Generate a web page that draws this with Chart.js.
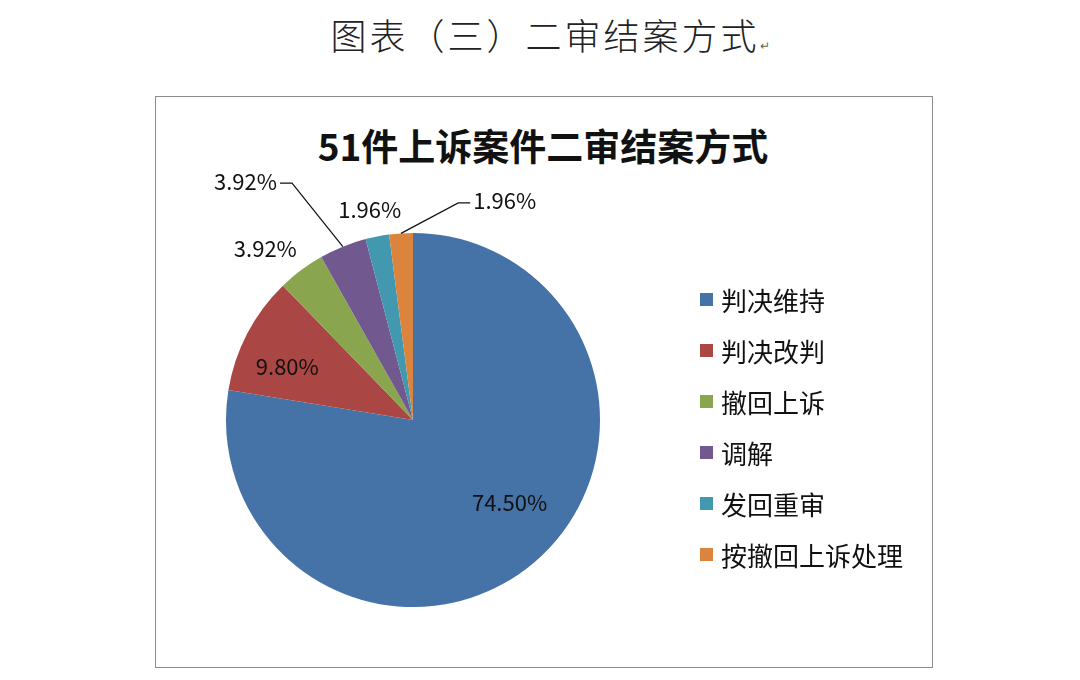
<!DOCTYPE html>
<html><head><meta charset="utf-8">
<script src="https://cdn.jsdelivr.net/npm/chart.js@4"></script>
<style>
body{margin:0;background:#fff;font-family:"Noto Sans CJK SC",sans-serif;}
#wrap{position:relative;width:1080px;height:680px;}
#top{position:absolute;left:0;width:1080px;top:8px;text-align:center;font-size:36px;font-weight:300;letter-spacing:3px;color:#222;padding-left:20px;box-sizing:border-box;}
#top small{font-size:12px;color:#666;letter-spacing:0}
#box{position:absolute;left:155px;top:96px;width:776px;height:570px;border:1.5px solid #8c8c8c;}
#title{position:absolute;left:155px;width:776px;top:118px;text-align:center;font-size:37px;font-weight:bold;color:#111;}
#legend{position:absolute;left:700px;top:274px;font-size:26px;color:#111;}
#legend div{height:51px;display:flex;align-items:center;}
#legend span{display:inline-block;width:13px;height:13px;margin-right:8px;}
canvas{position:absolute;left:0;top:0;}
</style></head><body>
<div id="wrap">
<div id="top">图表（三）二审结案方式<small>↵</small></div>
<div id="box"></div>
<div id="title">51件上诉案件二审结案方式</div>
<canvas id="c" width="1080" height="680"></canvas>
<div id="legend"></div>
</div>
<script>
const categories = ['判决维持', '判决改判', '撤回上诉', '调解', '发回重审', '按撤回上诉处理'];
const values = [74.50, 9.80, 3.92, 3.92, 1.96, 1.96];
const valueLabels = ['74.50%', '9.80%', '3.92%', '3.92%', '1.96%', '1.96%'];
const colors = ['#4572A7', '#AA4643', '#89A54E', '#71588F', '#4198AF', '#DB843D'];
// label placement: radius factor, angle shift (deg), leader line
const placement = [[0.68, -9, false], [0.73, -4.6, false], [1.21, -4, false], [1.56, -13, true], [1.15, -0.6, false], [1.27, 26.4, true]];

const legend = document.getElementById('legend');
categories.forEach((c, i) => {
  legend.innerHTML += `<div><span style="background:${colors[i]}"></span>${c}</div>`;
});

const labelPlugin = {
  id: 'labels',
  afterDatasetsDraw(chart) {
    const ctx = chart.ctx;
    chart.getDatasetMeta(0).data.forEach((arc, i) => {
      const mid = (arc.startAngle + arc.endAngle) / 2;
      const [f, dA, leader] = placement[i];
      const a = mid + dA * Math.PI / 180;
      const lx = arc.x + Math.cos(a) * arc.outerRadius * f;
      const ly = arc.y + Math.sin(a) * arc.outerRadius * f;
      ctx.save();
      ctx.font = '22px "Noto Sans CJK SC", sans-serif';
      ctx.fillStyle = '#111';
      ctx.textAlign = 'center';
      ctx.textBaseline = 'middle';
      ctx.fillText(valueLabels[i], lx, ly);
      if (leader) {
        const w = ctx.measureText(valueLabels[i]).width;
        const ex = arc.x + Math.cos(mid) * arc.outerRadius;
        const ey = arc.y + Math.sin(mid) * arc.outerRadius;
        const side = ex > lx ? 1 : -1;
        const sx = lx + side * (w / 2 + 3);
        ctx.strokeStyle = '#111';
        ctx.lineWidth = 1.2;
        ctx.beginPath();
        ctx.moveTo(sx, ly + 2);
        ctx.lineTo(sx + side * 12, ly + 2);
        ctx.lineTo(ex, ey);
        ctx.stroke();
      }
      ctx.restore();
    });
  }
};

new Chart(document.getElementById('c'), {
  type: 'pie',
  data: {
    labels: categories,
    datasets: [{ data: values, backgroundColor: colors, borderWidth: 0 }],
  },
  options: {
    responsive: false,
    animation: false,
    layout: { padding: { left: 226, right: 480, top: 233, bottom: 73 } },
    plugins: { legend: { display: false }, tooltip: { enabled: false } },
  },
  plugins: [labelPlugin],
});
</script>
</body></html>
